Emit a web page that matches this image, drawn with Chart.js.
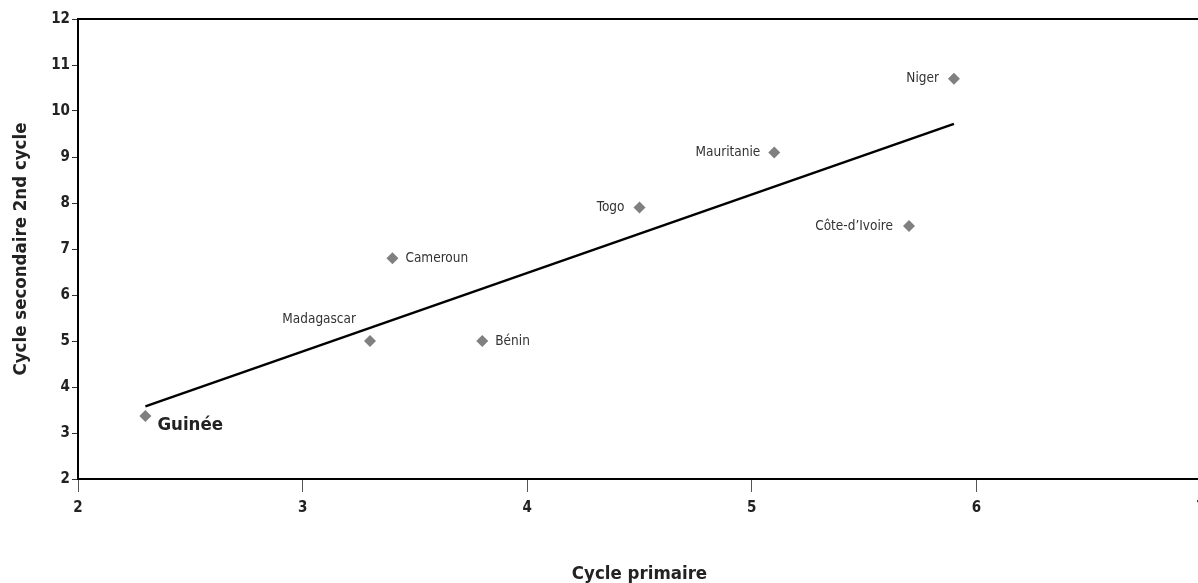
<!DOCTYPE html>
<html>
<head>
<meta charset="utf-8">
<script src="https://cdn.jsdelivr.net/npm/chart.js@4.4.1/dist/chart.umd.min.js"></script>
<style>
  html, body { margin: 0; padding: 0; background: #fff; overflow: hidden; }
  #wrap { width: 1216px; height: 583px; }
</style>
</head>
<body>
<div id="wrap"><canvas id="scatterChart"></canvas></div>
<script>
const pays = ['Guinée', 'Madagascar', 'Cameroun', 'Bénin', 'Togo', 'Mauritanie', 'Côte-d’Ivoire', 'Niger'];
const cyclePrimaire = [2.3, 3.3, 3.4, 3.8, 4.5, 5.1, 5.7, 5.9];
const cycleSecondaire = [3.37, 5.0, 6.8, 5.0, 7.9, 9.1, 7.5, 10.7];
const tendanceX = [2.3, 5.9];
const tendanceY = [3.58, 9.72];
const ticksX = [2, 3, 4, 5, 6, 7];
const ticksY = [2, 3, 4, 5, 6, 7, 8, 9, 10, 11, 12];

const fontFamily = "'DejaVu Sans Condensed', 'Liberation Sans Narrow', sans-serif";

// where each country name sits relative to its marker
const placement = {
  'Guinée': { align: 'left', dx: 12, dy: 9, big: true },
  'Madagascar': { align: 'right', dx: -14, dy: -22 },
  'Cameroun': { align: 'left', dx: 13, dy: 0 },
  'Bénin': { align: 'left', dx: 13, dy: 0 },
  'Togo': { align: 'right', dx: -15, dy: 0 },
  'Mauritanie': { align: 'right', dx: -14, dy: 0 },
  'Côte-d’Ivoire': { align: 'right', dx: -16, dy: 0 },
  'Niger': { align: 'right', dx: -15, dy: 0 }
};

const labelPlugin = {
  id: 'paysLabels',
  afterDatasetsDraw(chart) {
    const ctx = chart.ctx;
    const meta = chart.getDatasetMeta(0);
    ctx.save();
    ctx.textBaseline = 'middle';
    meta.data.forEach((pt, i) => {
      const p = placement[pays[i]];
      ctx.fillStyle = p.big ? '#222' : '#333';
      ctx.font = p.big ? 'bold 18.5px ' + fontFamily : '13.5px ' + fontFamily;
      ctx.textAlign = p.align;
      ctx.fillText(pays[i], pt.x + p.dx, pt.y + p.dy);
    });
    ctx.restore();
  },
  afterDraw(chart) {
    const a = chart.chartArea;
    const ctx = chart.ctx;
    ctx.save();
    ctx.strokeStyle = '#000';
    ctx.lineWidth = 2;
    ctx.beginPath();
    ctx.moveTo(a.left, a.top);
    ctx.lineTo(a.right + 10, a.top);
    ctx.stroke();
    ctx.restore();
  }
};

const points = cyclePrimaire.map((x, i) => ({ x: x, y: cycleSecondaire[i] }));
const tendance = tendanceX.map((x, i) => ({ x: x, y: tendanceY[i] }));

new Chart(document.getElementById('scatterChart'), {
  type: 'scatter',
  data: {
    datasets: [{
      label: 'Pays',
      data: points,
      pointStyle: 'rectRot',
      pointRadius: 6,
      pointBackgroundColor: '#808080',
      pointBorderColor: '#808080',
      pointBorderWidth: 0
    }, {
      label: 'Tendance',
      data: tendance,
      showLine: true,
      borderColor: '#000',
      borderWidth: 2.5,
      pointRadius: 0,
      fill: false
    }]
  },
  options: {
    responsive: true,
    maintainAspectRatio: false,
    animation: false,
    layout: { padding: { top: 19, right: 15, left: 0, bottom: 0 } },
    plugins: {
      legend: { display: false },
      tooltip: { enabled: false }
    },
    scales: {
      x: {
        type: 'linear',
        min: 2,
        max: 7,
        afterBuildTicks: (s) => { s.ticks = ticksX.map(v => ({ value: v })); },
        afterFit: (s) => { s.height = 104; },
        border: { color: '#000', width: 2 },
        grid: { drawOnChartArea: false, tickLength: 13, color: '#555', lineWidth: 1 },
        ticks: { padding: 7, color: '#222', font: { family: fontFamily, size: 15, weight: 'bold' } },
        title: {
          display: true,
          text: 'Cycle primaire',
          color: '#222',
          padding: { top: 0, bottom: 0 },
          font: { family: fontFamily, size: 18.5, weight: 'bold', lineHeight: 1 }
        }
      },
      y: {
        type: 'linear',
        min: 2,
        max: 12,
        afterBuildTicks: (s) => { s.ticks = ticksY.map(v => ({ value: v })); },
        afterFit: (s) => { s.width = 78; },
        border: { color: '#000', width: 2 },
        grid: { drawOnChartArea: false, tickLength: 6, color: '#333', lineWidth: 1 },
        ticks: { padding: 2, color: '#222', font: { family: fontFamily, size: 15, weight: 'bold' } },
        title: {
          display: true,
          text: 'Cycle secondaire 2nd cycle',
          color: '#222',
          padding: { top: 12, bottom: 0 },
          font: { family: fontFamily, size: 18.5, weight: 'bold', lineHeight: 1 }
        }
      }
    }
  },
  plugins: [labelPlugin]
});
</script>
</body>
</html>
